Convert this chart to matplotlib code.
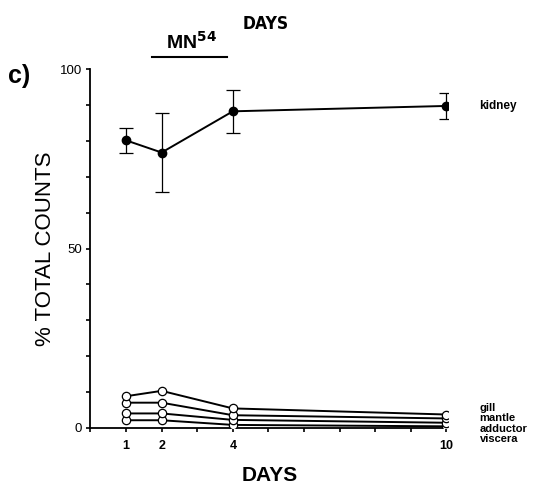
import matplotlib
matplotlib.use("Agg")
import matplotlib.pyplot as plt

plt.rcParams['font.family'] = ['Liberation Sans', 'DejaVu Sans']

days = [1, 2, 4, 10]

# kidney (mean +/- sd)
kidney = [80.2, 76.8, 88.3, 89.8]
kidney_err = [3.4, 11.0, 6.0, 3.6]

# other tissues
gill = [8.8, 10.3, 5.4, 3.7]
mantle = [7.0, 7.0, 3.5, 2.6]
adductor = [4.0, 4.0, 2.2, 1.4]
viscera = [2.1, 2.1, 0.8, 0.4]

tissue_names = ['gill', 'mantle', 'adductor', 'viscera']
label_y = [5.6, 2.7, -0.3, -3.2]

fig = plt.figure(figsize=(5.48, 4.90), dpi=100)
ax = fig.add_axes([0.165, 0.127, 0.653, 0.7314])

ax.errorbar(days, kidney, yerr=kidney_err, color='black', marker='o',
            markersize=6, lw=1.4, elinewidth=0.9, capsize=5, capthick=0.9,
            zorder=5)

for i, vals in enumerate([viscera, adductor, mantle, gill]):
    ax.plot(days, vals, color='black', lw=1.4, marker='o', markersize=6,
            markerfacecolor='white', markeredgecolor='black',
            markeredgewidth=0.9, zorder=3 + i)

ax.set_xlim(0, 10.05)
ax.set_ylim(0, 100)
ax.spines['top'].set_visible(False)
ax.spines['right'].set_visible(False)
ax.spines['left'].set_linewidth(1.3)
ax.spines['bottom'].set_linewidth(1.3)
ax.spines['left'].set_bounds(0, 100)
ax.spines['bottom'].set_bounds(0, 10)

ax.set_xticks(range(0, 11))
ax.set_xticklabels(['', '1', '2', '', '4', '', '', '', '', '', '10'],
                   fontsize=9, fontweight='bold')
ax.set_yticks(range(0, 101, 10))
ax.set_yticklabels(['0', '', '', '', '', '50', '', '', '', '', '100'],
                   fontsize=9.5)
ax.tick_params(axis='both', direction='out', length=3, width=1.2, pad=3)
ax.tick_params(axis='x', pad=6)

ax.set_xlabel('DAYS', fontsize=15, fontweight='bold', labelpad=10)
ax.set_ylabel('% TOTAL COUNTS', fontsize=16, labelpad=3)

ax.text(10.93, kidney[-1], 'kidney', fontsize=8.5, fontweight='bold',
        va='center', ha='left', clip_on=False)
for name, y in zip(tissue_names, label_y):
    ax.text(10.93, y, name, fontsize=8, fontweight='bold', va='center',
            ha='left', clip_on=False)

fig.text(0.015, 0.845, 'c)', fontsize=18, fontweight='bold', va='center')
fig.text(0.35, 0.9, r'MN$^{\mathbf{54}}$', fontsize=14, fontweight='bold',
         ha='center')
fig.add_artist(plt.Line2D([0.278, 0.414], [0.884, 0.884], color='black',
                          lw=1.5))
fig.text(0.484, 0.94, 'DAYS', fontsize=12.5, fontweight='bold', ha='center',
         family='DejaVu Sans', fontstretch='condensed')

fig.savefig('out.png', dpi=100)
